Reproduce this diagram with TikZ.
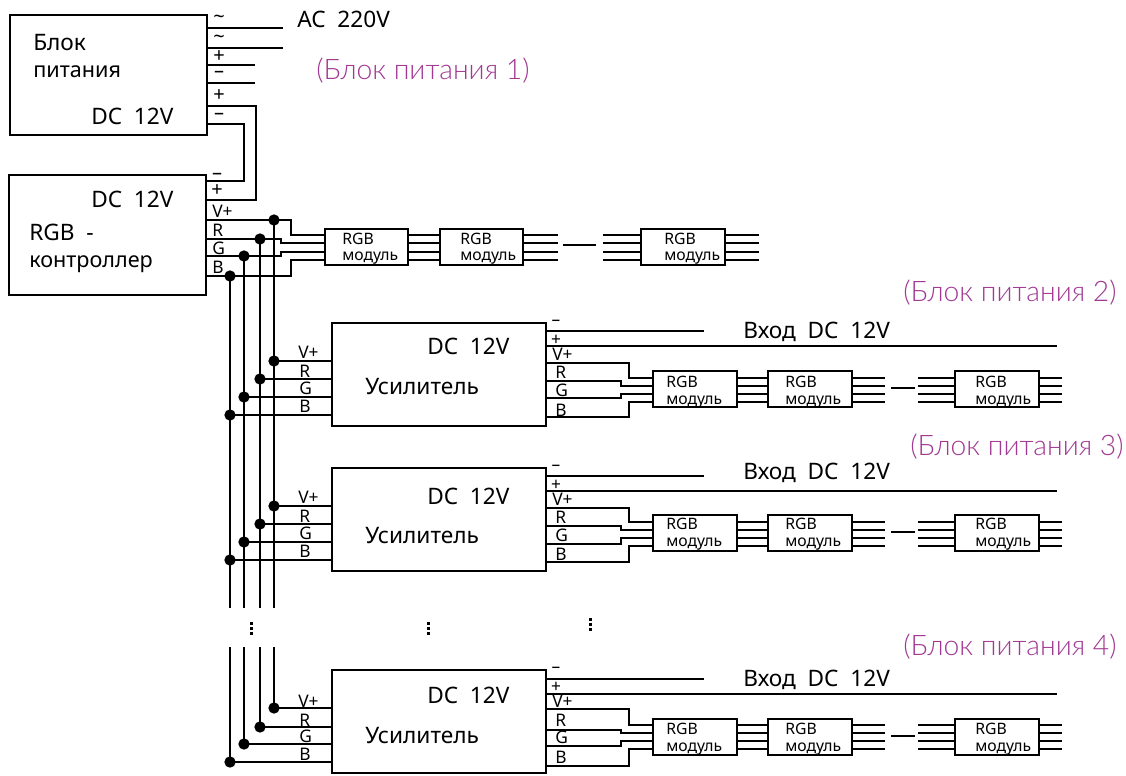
\documentclass[tikz,border=0pt]{standalone}
\usepackage{fontspec}
\setmainfont{Noto Sans}
\newfontfamily\plumfont{Lato Light}
\definecolor{plumtext}{rgb}{0.63,0.22,0.58}
\tikzset{
  wire/.style={line width=1.5pt},
  bigbox/.style={rectangle, draw, line width=1.9pt, inner sep=0pt, minimum width=147.75pt, minimum height=90pt},
  ampbox/.style={rectangle, draw, line width=1.9pt, inner sep=0pt, minimum width=160.5pt, minimum height=77.25pt},
  modbox/.style={rectangle, draw, line width=1.5pt, inner sep=0pt, minimum width=62.5pt, minimum height=27pt},
  joint/.style={circle, fill=black, inner sep=0pt, minimum size=8.5pt},
  bigtxt/.style={anchor=base west, inner sep=0pt, font=\fontsize{17}{20}\selectfont},
  cyrtxt/.style={anchor=base west, inner sep=0pt, font=\fontsize{16.2}{20}\selectfont},
  modtxt/.style={anchor=base west, inner sep=0pt, font=\fontsize{11.8}{14}\selectfont},
  pintxt/.style={anchor=base west, inner sep=0pt, font=\fontsize{13}{15}\selectfont},
  signtxt/.style={inner sep=0pt, font=\fontsize{13}{15}\selectfont},
  boldsign/.style={inner sep=0pt, font=\fontsize{15}{17}\selectfont\bfseries},
  plumtxt/.style={anchor=base west, inner sep=0pt, text=plumtext, font=\plumfont\fontsize{21.2}{24}\selectfont},
  moredots/.style={line width=2.25pt, dash pattern=on 2.25pt off 1.5pt}
}
\begin{document}
\begin{tikzpicture}[x=0.75pt, y=-0.75pt]
\useasboundingbox (0,0) rectangle (1126,775);

% power supply and controller
\node(psu) [bigbox] at (108.5,75) {};
\node(psuname) [bigtxt] at (33,50) {Блок};
\node(psuname2) [cyrtxt] at (33,77) {питания};
\node(psudc) [bigtxt] at (91,124) {DC\ \ 12V};
\node(contr) [bigbox] at (107.5,235) {};
\node(contrdc) [bigtxt] at (91,207) {DC\ \ 12V};
\node(contrname) [bigtxt] at (29,240) {RGB\ \ -};
\node(contrname2) [cyrtxt] at (29,267) {контроллер};

\node(acin) [bigtxt] at (297,27) {AC\ \ 220V};
\node(plum1) [plumtxt] at (316,79) {(Блок питания 1)};
\node(plum2) [plumtxt] at (903,301) {(Блок питания 2)};
\node(plum3) [plumtxt] at (910,455) {(Блок питания 3)};
\node(plum4) [plumtxt] at (903,655) {(Блок питания 4)};

\node(psut1) [boldsign] at (219,19) {\textasciitilde};
\node(psut2) [boldsign] at (219,39) {\textasciitilde};
\node(psut3) [boldsign] at (219,57) {+};
\node(psut4) [boldsign] at (219,74) {–};
\node(psut5) [boldsign] at (219,96) {+};
\node(psut6) [boldsign] at (219,116) {–};
\node(contrt1) [boldsign] at (217,176) {–};
\node(contrt2) [boldsign] at (217,191) {+};
\node(contrv) [pintxt] at (212,217) {V+};
\node(contrr) [pintxt] at (212,236) {R};
\node(contrg) [pintxt] at (212,254) {G};
\node(contrb) [pintxt] at (212,273) {B};

\coordinate(acend1) at (283,28);
\coordinate(acend2) at (283,48);
\coordinate(psuend1) at (255,65);
\coordinate(psuend2) at (255,83);
\draw[wire] (psu.east |- acend1) -- (acend1);
\draw[wire] (psu.east |- acend2) -- (acend2);
\draw[wire] (psu.east |- psuend1) -- (psuend1);
\draw[wire] (psu.east |- psuend2) -- (psuend2);
\draw[wire] (psu.east |- 0,106) -| (256,200) -- (contr.east |- 0,200);
\draw[wire] (psu.east |- 0,124) -| (244,181) -- (contr.east |- 0,181);

% first row of modules
\node(mod1a) [modbox] at (366.5,247) {};
\node(mod1b) [modbox, right of=mod1a, node distance=86.25pt] {};
\node(mod1c) [modbox, right of=mod1b, node distance=151.125pt] {};
\node(mod1at) [modtxt] at (342,244) {RGB};
\node(mod1au) [modtxt] at (342,260) {модуль};
\node(mod1bt) [modtxt] at (460,244) {RGB};
\node(mod1bu) [modtxt] at (460,260) {модуль};
\node(mod1ct) [modtxt] at (664,244) {RGB};
\node(mod1cu) [modtxt] at (664,260) {модуль};

\node(dv0) [joint] at (274,220) {};
\node(dr0) [joint] at (260,239) {};
\node(dg0) [joint] at (244,256) {};
\node(db0) [joint] at (230,276) {};
\draw[wire] (contr.east |- dv0) -| (291,235) -- (mod1a.west |- 0,235);
\draw[wire] (contr.east |- dr0) -| (281,243) -- (mod1a.west |- 0,243);
\draw[wire] (contr.east |- dg0) -| (281,252) -- (mod1a.west |- 0,252);
\draw[wire] (contr.east |- db0) -| (291,260) -- (mod1a.west |- 0,260);

\coordinate(tail1) at (558,0);
\coordinate(stub1) at (603,0);
\coordinate(end1) at (759,0);
\coordinate(gap1a) at (563,245);
\coordinate(gap1b) at (596,245);
\draw[wire] (gap1a) -- (gap1b);
\draw[wire] (mod1a.east |- 0,235) -- (mod1b.west |- 0,235) (mod1a.east |- 0,243) -- (mod1b.west |- 0,243)
            (mod1a.east |- 0,252) -- (mod1b.west |- 0,252) (mod1a.east |- 0,260) -- (mod1b.west |- 0,260);
\draw[wire] (mod1b.east |- 0,235) -- (tail1 |- 0,235) (mod1b.east |- 0,243) -- (tail1 |- 0,243)
            (mod1b.east |- 0,252) -- (tail1 |- 0,252) (mod1b.east |- 0,260) -- (tail1 |- 0,260);
\draw[wire] (stub1 |- 0,235) -- (mod1c.west |- 0,235) (stub1 |- 0,243) -- (mod1c.west |- 0,243)
            (stub1 |- 0,252) -- (mod1c.west |- 0,252) (stub1 |- 0,260) -- (mod1c.west |- 0,260);
\draw[wire] (mod1c.east |- 0,235) -- (end1 |- 0,235) (mod1c.east |- 0,243) -- (end1 |- 0,243)
            (mod1c.east |- 0,252) -- (end1 |- 0,252) (mod1c.east |- 0,260) -- (end1 |- 0,260);

% amplifier 1
\node(amp1) [ampbox] at (439,374.5) {};
\node(amp1dc) [bigtxt] at (427,354) {DC\ \ 12V};
\node(amp1name) [bigtxt] at (365,394) {Усилитель};
\node(amp1in) [bigtxt] at (743,338) {Вход\ \ DC\ \ 12V};
\node(amp1lv) [pintxt] at (298,358) {V+};
\node(amp1lr) [pintxt] at (299,377) {R};
\node(amp1lg) [pintxt] at (299,394) {G};
\node(amp1lb) [pintxt] at (299,412) {B};
\node(amp1minus) [signtxt] at (556,323) {–};
\node(amp1plus) [signtxt] at (556,340) {+};
\node(amp1rv) [pintxt] at (552,360) {V+};
\node(amp1rr) [pintxt] at (555,378) {R};
\node(amp1rg) [pintxt] at (555,396) {G};
\node(amp1rb) [pintxt] at (555,416) {B};

\node(dv1) [joint] at (274,361) {};
\node(dr1) [joint] at (260,379) {};
\node(dg1) [joint] at (244,397) {};
\node(db1) [joint] at (230,415) {};
\draw[wire] (dv1.center) -- (amp1.west |- dv1);
\draw[wire] (dr1.center) -- (amp1.west |- dr1);
\draw[wire] (dg1.center) -- (amp1.west |- dg1);
\draw[wire] (db1.center) -- (amp1.west |- db1);

\node(mod2a) [modbox] at (695,389) {};
\node(mod2b) [modbox, right of=mod2a, node distance=86.25pt] {};
\node(mod2c) [modbox, right of=mod2b, node distance=140.25pt] {};
\node(mod2at) [modtxt] at (666,387) {RGB};
\node(mod2au) [modtxt] at (666,404) {модуль};
\node(mod2bt) [modtxt] at (785,387) {RGB};
\node(mod2bu) [modtxt] at (785,404) {модуль};
\node(mod2ct) [modtxt] at (975,387) {RGB};
\node(mod2cu) [modtxt] at (975,404) {модуль};

\coordinate(in1minus) at (704,331);
\coordinate(in1plus) at (1057,346);
\draw[wire] (amp1.east |- in1minus) -- (in1minus);
\draw[wire] (amp1.east |- in1plus) -- (in1plus);
\draw[wire] (amp1.east |- 0,363) -| (629,378) -- (mod2a.west |- 0,378);
\draw[wire] (amp1.east |- 0,381) -| (621,386) -- (mod2a.west |- 0,386);
\draw[wire] (amp1.east |- 0,398) -| (621,394) -- (mod2a.west |- 0,394);
\draw[wire] (amp1.east |- 0,417) -| (629,402) -- (mod2a.west |- 0,402);

\coordinate(tail2) at (885,0);
\coordinate(stub2) at (918,0);
\coordinate(end2) at (1062,0);
\coordinate(gap2a) at (891,388);
\coordinate(gap2b) at (915,388);
\draw[wire] (gap2a) -- (gap2b);
\draw[wire] (mod2a.east |- 0,378) -- (mod2b.west |- 0,378) (mod2a.east |- 0,386) -- (mod2b.west |- 0,386)
            (mod2a.east |- 0,394) -- (mod2b.west |- 0,394) (mod2a.east |- 0,402) -- (mod2b.west |- 0,402);
\draw[wire] (mod2b.east |- 0,378) -- (tail2 |- 0,378) (mod2b.east |- 0,386) -- (tail2 |- 0,386)
            (mod2b.east |- 0,394) -- (tail2 |- 0,394) (mod2b.east |- 0,402) -- (tail2 |- 0,402);
\draw[wire] (stub2 |- 0,378) -- (mod2c.west |- 0,378) (stub2 |- 0,386) -- (mod2c.west |- 0,386)
            (stub2 |- 0,394) -- (mod2c.west |- 0,394) (stub2 |- 0,402) -- (mod2c.west |- 0,402);
\draw[wire] (mod2c.east |- 0,378) -- (end2 |- 0,378) (mod2c.east |- 0,386) -- (end2 |- 0,386)
            (mod2c.east |- 0,394) -- (end2 |- 0,394) (mod2c.east |- 0,402) -- (end2 |- 0,402);

% amplifier 2
\node(amp2) [ampbox, below of=amp1, node distance=108.75pt] {};
\node(amp2dc) [bigtxt] at (427,504) {DC\ \ 12V};
\node(amp2name) [bigtxt] at (365,543) {Усилитель};
\node(amp2in) [bigtxt] at (743,479) {Вход\ \ DC\ \ 12V};
\node(amp2lv) [pintxt] at (298,503) {V+};
\node(amp2lr) [pintxt] at (299,522) {R};
\node(amp2lg) [pintxt] at (299,539) {G};
\node(amp2lb) [pintxt] at (299,557) {B};
\node(amp2minus) [signtxt] at (556,468) {–};
\node(amp2plus) [signtxt] at (556,485) {+};
\node(amp2rv) [pintxt] at (552,505) {V+};
\node(amp2rr) [pintxt] at (555,523) {R};
\node(amp2rg) [pintxt] at (555,541) {G};
\node(amp2rb) [pintxt] at (555,560) {B};

\node(dv2) [joint] at (274,506) {};
\node(dr2) [joint] at (260,524) {};
\node(dg2) [joint] at (244,542) {};
\node(db2) [joint] at (230,560) {};
\draw[wire] (dv2.center) -- (amp2.west |- dv2);
\draw[wire] (dr2.center) -- (amp2.west |- dr2);
\draw[wire] (dg2.center) -- (amp2.west |- dg2);
\draw[wire] (db2.center) -- (amp2.west |- db2);

\node(mod3a) [modbox] at (695,533) {};
\node(mod3b) [modbox, right of=mod3a, node distance=86.25pt] {};
\node(mod3c) [modbox, right of=mod3b, node distance=140.25pt] {};
\node(mod3at) [modtxt] at (666,529) {RGB};
\node(mod3au) [modtxt] at (666,546) {модуль};
\node(mod3bt) [modtxt] at (785,529) {RGB};
\node(mod3bu) [modtxt] at (785,546) {модуль};
\node(mod3ct) [modtxt] at (975,529) {RGB};
\node(mod3cu) [modtxt] at (975,546) {модуль};

\coordinate(in2minus) at (704,476);
\coordinate(in2plus) at (1057,491);
\draw[wire] (amp2.east |- in2minus) -- (in2minus);
\draw[wire] (amp2.east |- in2plus) -- (in2plus);
\draw[wire] (amp2.east |- 0,508) -| (629,522) -- (mod3a.west |- 0,522);
\draw[wire] (amp2.east |- 0,526) -| (621,530) -- (mod3a.west |- 0,530);
\draw[wire] (amp2.east |- 0,544) -| (621,538) -- (mod3a.west |- 0,538);
\draw[wire] (amp2.east |- 0,562) -| (629,546) -- (mod3a.west |- 0,546);

\coordinate(gap3a) at (891,532);
\coordinate(gap3b) at (915,532);
\draw[wire] (gap3a) -- (gap3b);
\draw[wire] (mod3a.east |- 0,522) -- (mod3b.west |- 0,522) (mod3a.east |- 0,530) -- (mod3b.west |- 0,530)
            (mod3a.east |- 0,538) -- (mod3b.west |- 0,538) (mod3a.east |- 0,546) -- (mod3b.west |- 0,546);
\draw[wire] (mod3b.east |- 0,522) -- (tail2 |- 0,522) (mod3b.east |- 0,530) -- (tail2 |- 0,530)
            (mod3b.east |- 0,538) -- (tail2 |- 0,538) (mod3b.east |- 0,546) -- (tail2 |- 0,546);
\draw[wire] (stub2 |- 0,522) -- (mod3c.west |- 0,522) (stub2 |- 0,530) -- (mod3c.west |- 0,530)
            (stub2 |- 0,538) -- (mod3c.west |- 0,538) (stub2 |- 0,546) -- (mod3c.west |- 0,546);
\draw[wire] (mod3c.east |- 0,522) -- (end2 |- 0,522) (mod3c.east |- 0,530) -- (end2 |- 0,530)
            (mod3c.east |- 0,538) -- (end2 |- 0,538) (mod3c.east |- 0,546) -- (end2 |- 0,546);

% amplifier 3
\node(amp3) [ampbox, below of=amp2, node distance=151.5pt] {};
\node(amp3dc) [bigtxt] at (427,703) {DC\ \ 12V};
\node(amp3name) [bigtxt] at (365,743) {Усилитель};
\node(amp3in) [bigtxt] at (743,686) {Вход\ \ DC\ \ 12V};
\node(amp3lv) [pintxt] at (298,707) {V+};
\node(amp3lr) [pintxt] at (299,726) {R};
\node(amp3lg) [pintxt] at (299,742) {G};
\node(amp3lb) [pintxt] at (299,760) {B};
\node(amp3minus) [signtxt] at (556,670) {–};
\node(amp3plus) [signtxt] at (556,687) {+};
\node(amp3rv) [pintxt] at (552,707) {V+};
\node(amp3rr) [pintxt] at (555,726) {R};
\node(amp3rg) [pintxt] at (555,743) {G};
\node(amp3rb) [pintxt] at (555,763) {B};

\node(dv3) [joint] at (274,708) {};
\node(dr3) [joint] at (260,727) {};
\node(dg3) [joint] at (244,744) {};
\node(db3) [joint] at (230,762) {};
\draw[wire] (dv3.center) -- (amp3.west |- dv3);
\draw[wire] (dr3.center) -- (amp3.west |- dr3);
\draw[wire] (dg3.center) -- (amp3.west |- dg3);
\draw[wire] (db3.center) -- (amp3.west |- db3);

\node(mod4a) [modbox] at (695,737) {};
\node(mod4b) [modbox, right of=mod4a, node distance=86.25pt] {};
\node(mod4c) [modbox, right of=mod4b, node distance=140.25pt] {};
\node(mod4at) [modtxt] at (666,734) {RGB};
\node(mod4au) [modtxt] at (666,751) {модуль};
\node(mod4bt) [modtxt] at (785,734) {RGB};
\node(mod4bu) [modtxt] at (785,751) {модуль};
\node(mod4ct) [modtxt] at (975,734) {RGB};
\node(mod4cu) [modtxt] at (975,751) {модуль};

\coordinate(in3minus) at (704,679);
\coordinate(in3plus) at (1057,694);
\draw[wire] (amp3.east |- in3minus) -- (in3minus);
\draw[wire] (amp3.east |- in3plus) -- (in3plus);
\draw[wire] (amp3.east |- 0,709) -| (629,725) -- (mod4a.west |- 0,725);
\draw[wire] (amp3.east |- 0,730) -| (621,733) -- (mod4a.west |- 0,733);
\draw[wire] (amp3.east |- 0,746) -| (621,741) -- (mod4a.west |- 0,741);
\draw[wire] (amp3.east |- 0,766) -| (629,749) -- (mod4a.west |- 0,749);

\coordinate(gap4a) at (891,736);
\coordinate(gap4b) at (915,736);
\draw[wire] (gap4a) -- (gap4b);
\draw[wire] (mod4a.east |- 0,725) -- (mod4b.west |- 0,725) (mod4a.east |- 0,733) -- (mod4b.west |- 0,733)
            (mod4a.east |- 0,741) -- (mod4b.west |- 0,741) (mod4a.east |- 0,749) -- (mod4b.west |- 0,749);
\draw[wire] (mod4b.east |- 0,725) -- (tail2 |- 0,725) (mod4b.east |- 0,733) -- (tail2 |- 0,733)
            (mod4b.east |- 0,741) -- (tail2 |- 0,741) (mod4b.east |- 0,749) -- (tail2 |- 0,749);
\draw[wire] (stub2 |- 0,725) -- (mod4c.west |- 0,725) (stub2 |- 0,733) -- (mod4c.west |- 0,733)
            (stub2 |- 0,741) -- (mod4c.west |- 0,741) (stub2 |- 0,749) -- (mod4c.west |- 0,749);
\draw[wire] (mod4c.east |- 0,725) -- (end2 |- 0,725) (mod4c.east |- 0,733) -- (end2 |- 0,733)
            (mod4c.east |- 0,741) -- (end2 |- 0,741) (mod4c.east |- 0,749) -- (end2 |- 0,749);

% bus, broken in the middle
\coordinate(busvup) at (274,608);
\coordinate(busrup) at (260,608);
\coordinate(busgup) at (244,608);
\coordinate(busbup) at (230,608);
\coordinate(busvlo) at (274,647);
\coordinate(busrlo) at (260,647);
\coordinate(busglo) at (244,647);
\coordinate(busblo) at (230,647);
\draw[wire] (dv0.center) -- (busvup);
\draw[wire] (dr0.center) -- (busrup);
\draw[wire] (dg0.center) -- (busgup);
\draw[wire] (db0.center) -- (busbup);
\draw[wire] (busvlo) -- (dv3.center);
\draw[wire] (busrlo) -- (dr3.center);
\draw[wire] (busglo) -- (dg3.center);
\draw[wire] (busblo) -- (db3.center);

\coordinate(more1a) at (251,622);
\coordinate(more1b) at (251,636);
\coordinate(more2a) at (428,622);
\coordinate(more2b) at (428,636);
\coordinate(more3a) at (590,618);
\coordinate(more3b) at (590,632);
\draw[moredots] (more1a) -- (more1b);
\draw[moredots] (more2a) -- (more2b);
\draw[moredots] (more3a) -- (more3b);

\end{tikzpicture}
\end{document}
